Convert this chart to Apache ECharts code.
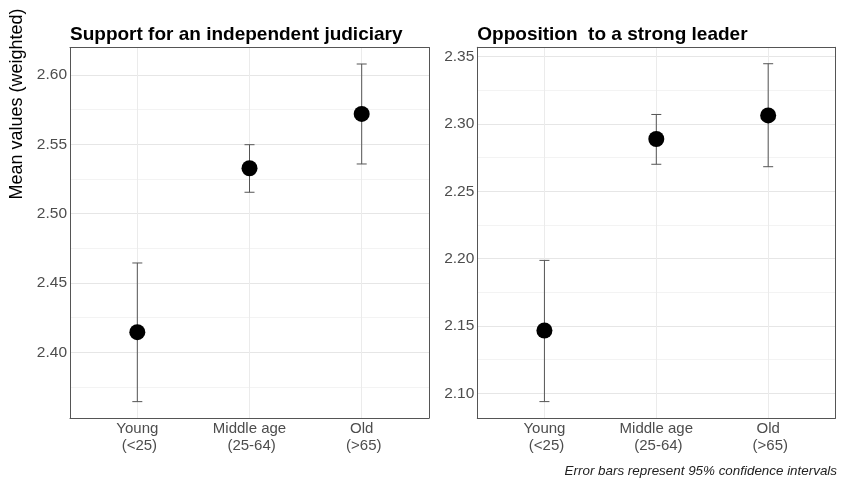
<!DOCTYPE html>
<html>
<head>
<meta charset="utf-8">
<script src="https://cdn.jsdelivr.net/npm/echarts@6/dist/echarts.min.js"></script>
<style>html,body{margin:0;padding:0;background:#fff}#c{width:841px;height:482px}</style>
</head>
<body>
<div id="c"></div>
<script>
const categories = ['Young\n (<25)', 'Middle age\n (25-64)', 'Old\n (>65)'];
const panelTitles = ['Support for an independent judiciary', 'Opposition  to a strong leader'];
const judiciaryMean = [2.4145, 2.5327, 2.5719];
const judiciaryLow  = [2.3644, 2.5154, 2.5358];
const judiciaryHigh = [2.4644, 2.5497, 2.6079];
const leaderMean = [2.1466, 2.2889, 2.3064];
const leaderLow  = [2.0938, 2.2701, 2.2683];
const leaderHigh = [2.1987, 2.3071, 2.3448];
const judiciaryTicks = [2.40, 2.45, 2.50, 2.55, 2.60];
const leaderTicks = [2.10, 2.15, 2.20, 2.25, 2.30, 2.35];
const judiciaryRange = [2.3526, 2.6198];
const leaderRange = [2.0814, 2.3570];
const yTitle = 'Mean values (weighted)';
const caption = 'Error bars represent 95% confidence intervals';

function gridValues(ticks, range) {
  const step = ticks[1] - ticks[0];
  const out = [];
  const start = ticks[0] - step / 2;
  for (let v = start; v <= range[1] + 1e-9; v += step / 2) {
    const r = Math.round(v * 10000) / 10000;
    if (r >= range[0] && r <= range[1]) out.push(r);
  }
  return out;
}
function isMajor(v, ticks) { return ticks.some(t => Math.abs(t - v) < 1e-6); }

const chart = echarts.init(document.getElementById('c'), null, {renderer: 'canvas'});
const FONT = 'Liberation Sans, Arial, sans-serif';

const grids = [
  {left: 70, top: 47.5, width: 359, height: 370.5},
  {left: 477.3, top: 47.3, width: 358, height: 371}
];
const yTicksList = [judiciaryTicks, leaderTicks];
const ranges = [judiciaryRange, leaderRange];
const means = [judiciaryMean, leaderMean];
const lows = [judiciaryLow, leaderLow];
const highs = [judiciaryHigh, leaderHigh];

const xAxes = [], yAxes = [], series = [], titles = [];
for (let p = 0; p < 2; p++) {
  const catIdx = categories.map((c, i) => i);
  xAxes.push({
    gridIndex: p, type: 'value', min: -0.6, max: 2.6,
    axisLine: {show: true, onZero: false, lineStyle: {color: '#555', width: 1}},
    axisTick: {show: false, customValues: catIdx},
    axisLabel: {customValues: catIdx, formatter: v => categories[Math.round(v)], color: '#4d4d4d',
      fontSize: 15, fontFamily: FONT, margin: 2, lineHeight: 17},
    splitLine: {show: true, lineStyle: {color: '#ebebeb', width: 1}}
  });
  const gv = gridValues(yTicksList[p], ranges[p]);
  yAxes.push({
    gridIndex: p, type: 'value', min: ranges[p][0], max: ranges[p][1],
    axisLine: {show: true, onZero: false, lineStyle: {color: '#555', width: 1}},
    axisTick: {show: false, customValues: gv},
    axisLabel: {customValues: yTicksList[p], formatter: v => v.toFixed(2), color: '#4d4d4d',
      fontSize: 15.5, fontFamily: FONT, margin: 3},
    splitLine: {show: true, lineStyle: {color: gv.map(v => isMajor(v, yTicksList[p]) ? '#e6e6e6' : '#f3f3f3'), width: 1}}
  });
  xAxes.push({gridIndex: p, type: 'value', position: 'top', min: -0.6, max: 2.6,
    axisLine: {show: true, onZero: false, lineStyle: {color: '#555', width: 1}},
    axisTick: {show: false}, axisLabel: {show: false}, splitLine: {show: false}});
  yAxes.push({gridIndex: p, type: 'value', position: 'right', min: ranges[p][0], max: ranges[p][1],
    axisLine: {show: true, onZero: false, lineStyle: {color: '#555', width: 1}},
    axisTick: {show: false}, axisLabel: {show: false}, splitLine: {show: false}});

  const errData = catIdx.map(i => [i, lows[p][i], highs[p][i]]);
  series.push({
    type: 'custom', xAxisIndex: p * 2, yAxisIndex: p * 2, data: errData, z: 3,
    renderItem: function (params, api) {
      const x = api.value(0);
      const lo = api.coord([x, api.value(1)]);
      const hi = api.coord([x, api.value(2)]);
      const hw = 5;
      const st = {stroke: '#555', lineWidth: 1, fill: null};
      return {type: 'group', children: [
        {type: 'line', shape: {x1: lo[0], y1: lo[1], x2: hi[0], y2: hi[1]}, style: st},
        {type: 'line', shape: {x1: lo[0] - hw, y1: lo[1], x2: lo[0] + hw, y2: lo[1]}, style: st},
        {type: 'line', shape: {x1: hi[0] - hw, y1: hi[1], x2: hi[0] + hw, y2: hi[1]}, style: st}
      ]};
    }
  });
  series.push({
    type: 'scatter', xAxisIndex: p * 2, yAxisIndex: p * 2, z: 4,
    data: catIdx.map(i => [i, means[p][i]]),
    symbol: 'circle', symbolSize: 16, itemStyle: {color: '#000', opacity: 1}
  });
  titles.push({
    text: panelTitles[p], left: grids[p].left - 5, top: 20,
    textStyle: {fontSize: 19, fontWeight: 'bold', color: '#000', fontFamily: FONT}
  });
}

chart.setOption({
  animation: false,
  backgroundColor: '#fff',
  title: titles,
  grid: grids,
  xAxis: xAxes,
  yAxis: yAxes,
  series: series,
  graphic: [
    {type: 'text', x: 17, y: 104, rotation: Math.PI / 2,
      style: {text: yTitle, fontSize: 18, fontFamily: FONT, fill: '#000', align: 'center', verticalAlign: 'middle'}},
    {type: 'text', right: 4, top: 465,
      style: {text: caption, fontSize: 13.4, fontStyle: 'italic', fontFamily: FONT, fill: '#222'}}
  ]
});
</script>
</body>
</html>
